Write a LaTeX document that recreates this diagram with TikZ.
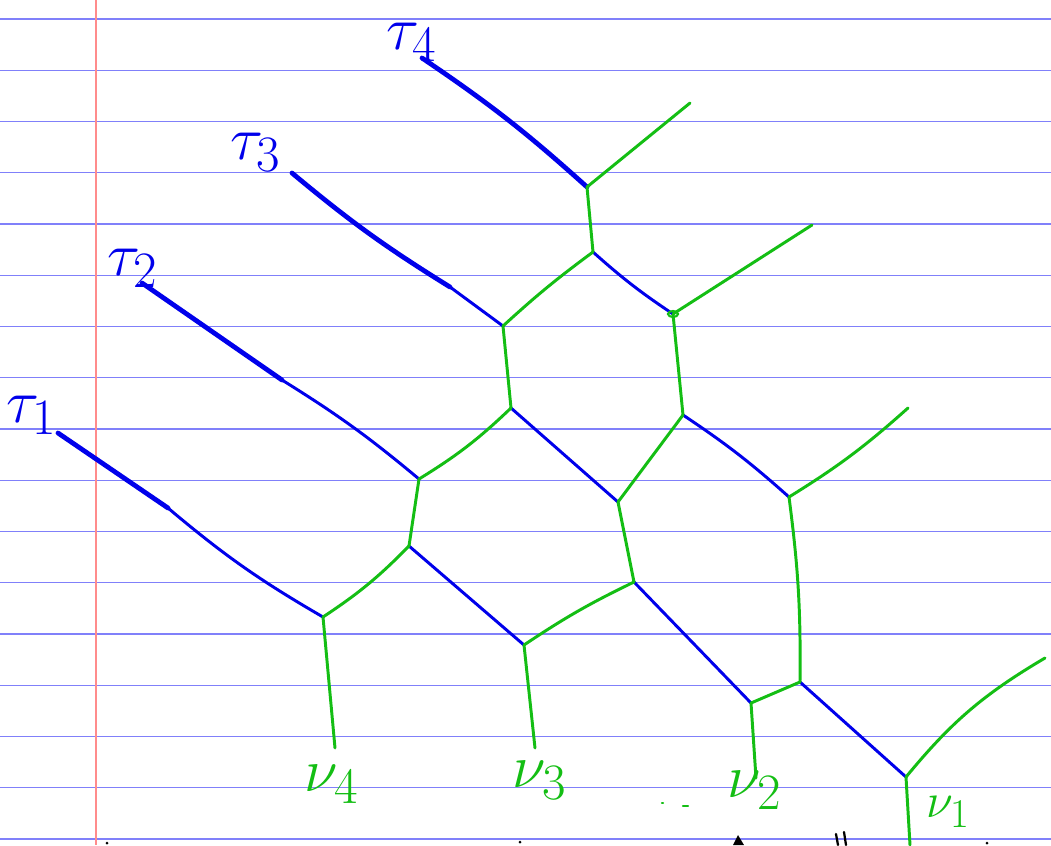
\documentclass[tikz,border=0pt]{standalone}
\usepackage{tikz}
\usetikzlibrary{positioning}
\definecolor{inkblue}{RGB}{0,0,235}
\definecolor{inkgreen}{RGB}{20,190,20}
\definecolor{rulecol}{RGB}{128,128,250}
\definecolor{margincol}{RGB}{255,140,140}
\tikzset{
  ruleline/.style={rulecol,line width=0.8pt},
  marginline/.style={margincol,line width=0.8pt},
  bleg/.style={inkblue,line width=3.4pt,line cap=round},
  bedge/.style={inkblue,line width=2.1pt,line cap=round},
  gedge/.style={inkgreen,line width=2.1pt,line cap=round},
  tlab/.style={inkblue,font=\Huge,scale=1.75,inner sep=0pt},
  nlab/.style={inkgreen,font=\Huge,scale=1.75,inner sep=0pt},
  smudge/.style={line width=1.6pt,line cap=round},
}

\begin{document}
\begin{tikzpicture}[x=0.25mm,y=-0.25mm]
  \useasboundingbox (0,0) rectangle (1051,845);
  % paper
  \fill[white] (0,0) rectangle (1051,845);
  \foreach \k in {0,...,16}
    \draw[ruleline] (0,{19+51.25*\k}) -- (1051,{19+51.25*\k});
  \draw[marginline] (96,0) -- (96,845);

  % vertices of the honeycomb
  \coordinate (A) at (587,187);
  \coordinate (B) at (593,252);
  \coordinate (C) at (503,326);
  \coordinate (E) at (673,314);
  \coordinate (D) at (511,408);
  \coordinate (F) at (683,415);
  \coordinate (H) at (419,479);
  \coordinate (G) at (618,502);
  \coordinate (I) at (789,497);
  \coordinate (J) at (409,546);
  \coordinate (K) at (634,582);
  \coordinate (L) at (800,682);
  \coordinate (M) at (323,617);
  \coordinate (N) at (524,645);
  \coordinate (O) at (751,703);
  \coordinate (P) at (906,777);

  % free ends of the green strands
  \coordinate (u4) at (690,103);
  \coordinate (u3) at (812,225);
  \coordinate (u2) at (908,408);
  \coordinate (u1) at (1045,658);
  \coordinate (d4) at (335,748);
  \coordinate (d3) at (535,748);
  \coordinate (d2) at (756,778);
  \coordinate (d1) at (910,845);

  % tau labels and their legs
  \node[tlab] (t4) at (412,42) {$\tau_4$};
  \node[tlab] (t3) at (256,152) {$\tau_3$};
  \node[tlab] (t2) at (133,268) {$\tau_2$};
  \node[tlab] (t1) at (32,415) {$\tau_1$};
  \coordinate (t4s) at (422,58);
  \coordinate (t3s) at (292,173);
  \coordinate (t3m) at (450,287);
  \coordinate (t2s) at (142,283);
  \coordinate (t2m) at (282,380);
  \coordinate (t1s) at (58,433);
  \coordinate (t1m) at (168,508);

  \draw[bleg] (t4s) to[bend left=4] (A);
  \draw[bleg] (t3s) to[bend right=4] (t3m);
  \draw[bedge] (t3m) -- (C);
  \draw[bleg] (t2s) -- (t2m);
  \draw[bedge] (t2m) to[bend left=4] (H);
  \draw[bleg] (t1s) -- (t1m);
  \draw[bedge] (t1m) to[bend right=5] (M);

  % blue edges
  \draw[bedge] (B) to[bend right=4] (E);
  \draw[bedge] (D) -- (G);
  \draw[bedge] (F) to[bend left=4] (I);
  \draw[bedge] (J) -- (N);
  \draw[bedge] (K) -- (O);
  \draw[bedge] (L) -- (P);

  % green edges
  \draw[gedge] (A) -- (B);
  \draw[gedge] (B) to[bend right=3] (C);
  \draw[gedge] (C) -- (D);
  \draw[gedge] (D) to[bend left=6] (H);
  \draw[gedge] (H) -- (J);
  \draw[gedge] (J) to[bend left=6] (M);
  \draw[gedge] (E) -- (F);
  \draw[gedge] (F) -- (G);
  \draw[gedge] (G) -- (K);
  \draw[gedge] (K) to[bend right=4] (N);
  \draw[gedge] (I) to[bend left=4] (L);
  \draw[gedge] (L) -- (O);
  \draw[gedge] (A) -- (u4);
  \draw[gedge] (E) -- (u3);
  \draw[gedge] (I) to[bend right=5] (u2);
  \draw[gedge] (P) to[bend left=10] (u1);
  \draw[gedge] (M) -- (d4);
  \draw[gedge] (N) -- (d3);
  \draw[gedge] (O) -- (d2);
  \draw[gedge] (P) -- (d1);
  \draw[gedge,line width=1.5pt] (E) ellipse[x radius=5,y radius=3];

  % nu labels
  \node[nlab] (n4) at (332,784) {$\nu_4$};
  \node[nlab] (n3) at (540,780) {$\nu_3$};
  \node[nlab] (n2) at (755,790) {$\nu_2$};
  \node[nlab,scale=0.8] (n1) at (948,812) {$\nu_1$};

  % stray marks
  \draw[smudge,inkgreen] (662,803) -- (663,803) (683,806) -- (688,806);
  \fill (733,845) -- (738,835) -- (744,845) -- cycle;
  \draw[smudge] (836,834) -- (838,845) (844,832) -- (846,845);
  \fill (107,843) circle[radius=1.5] (520,842) circle[radius=1.5]
    (987,843) circle[radius=1.5];
\end{tikzpicture}
\end{document}
